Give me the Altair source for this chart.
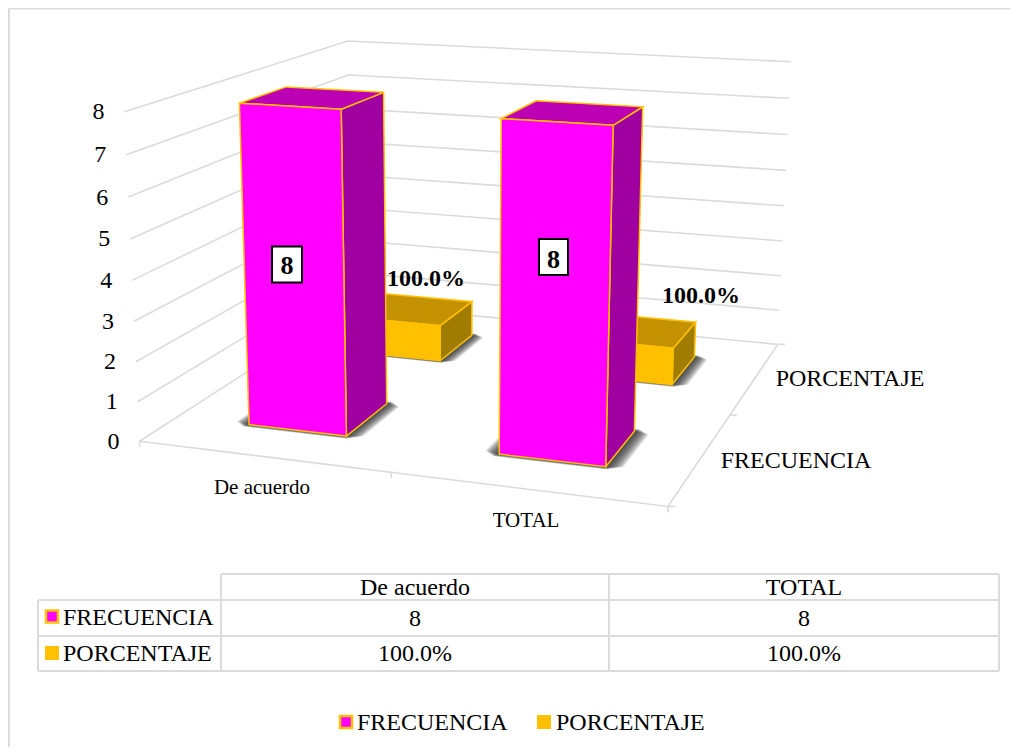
import numpy as np
import pandas as pd
import altair as alt

# ---- chart values ----
categories = ["De acuerdo", "TOTAL"]
series_names = ["FRECUENCIA", "PORCENTAJE"]
frecuencia = [8, 8]
porcentaje = [1.0, 1.0]
z_ticks = [0, 1, 2, 3, 4, 5, 6, 7, 8]

pink, gold = "#FF00FF", "#FFC000"
pink_top, pink_side = "#BC00B4", "#A000A0"
gold_top, gold_side = "#C49200", "#A07C00"
grid = "#DBDBDB"

W, H = 1002, 739
OX, OY = 8, 8

# ---- camera: homogeneous projection (u across, v depth, z value) fitted to the picture's box ----
calib = [
    (0, 0, 0, 140, 440), (0, 0, 8, 125, 112), (1, 0, 0, 668, 509), (0, 1, 8, 348, 39),
    (1, 1, 0, 777, 343), (1, 1, 8, 790.5, 62), (0, 1, 0, 352, 313), (.5, 0, 0, 391, 473), (1, .5, 0, 730, 416),
    (.15, .15, 8, 239, 103), (.35, .15, 8, 341, 109.5), (.35, .35, 8, 383, 93), (.15, .35, 8, 286, 86),
    (.15, .15, 0, 248, 423), (.35, .15, 0, 346.5, 435), (.35, .35, 0, 387, 402),
    (.65, .15, 8, 501, 119), (.85, .15, 8, 613.5, 126.5), (.85, .35, 8, 643, 108), (.65, .35, 8, 537, 101),
    (.65, .15, 0, 498, 454.5), (.85, .15, 0, 606, 468), (.85, .35, 0, 635, 432),
    (.35, .65, 1, 440, 323), (.35, .85, 1, 472, 300), (.35, .65, 0, 441, 359), (.35, .85, 0, 471.5, 335),
    (.85, .65, 1, 673, 347), (.85, .85, 1, 695, 322), (.85, .65, 0, 673, 385), (.85, .85, 0, 695, 355),
]
rows = []
for u, v, z, px, py in calib:
    X = [u, v, z / 8, 1]
    a, b = px / 1000, py / 1000
    rows.append(X + [0, 0, 0, 0] + [-a * c for c in X])
    rows.append([0, 0, 0, 0] + X + [-b * c for c in X])
P = np.linalg.svd(np.array(rows, dtype=float))[2][-1].reshape(3, 4)


def proj(u, v, z):
    x, y, w = P @ np.array([u, v, z / 8, 1.0])
    return [float(x / w * 1000), float(y / w * 1000)]


features = []


def poly(pts, fill, stroke="transparent", sw=0.0, op=1.0):
    ring = [list(p) for p in pts]
    ring.append(ring[0])
    features.append({"type": "Feature", "geometry": {"type": "Polygon", "coordinates": [ring]},
                     "properties": {"fill": fill, "stroke": stroke, "sw": sw, "op": op}})


def line(pts, stroke=grid, sw=1.6):
    features.append({"type": "Feature", "geometry": {"type": "LineString", "coordinates": [list(p) for p in pts]},
                     "properties": {"fill": "transparent", "stroke": stroke, "sw": sw, "op": 1.0}})


def rect(x0, y0, x1, y1, fill, stroke="transparent", sw=0.0):
    poly([(x0, y0), (x1, y0), (x1, y1), (x0, y1)], fill, stroke, sw)


# frame
line([(9, 8.5), (OX + W, 8.5)], sw=2)
line([(9, 8.5), (9, OY + H)], sw=2)

# walls and floor
for z in z_ticks:
    line([proj(0, 0, z), proj(0, 1, z), proj(1, 1, z)])
line([proj(0, 0, 0), proj(1, 0, 0), proj(1, 1, 0)])
for u in [0, .5, 1]:
    p = proj(u, 0, 0)
    line([p, (p[0], p[1] + 6)])
for v in [0, .5, 1]:
    p = proj(1, v, 0)
    line([p, (p[0] + 7, p[1])])


def bar(c, d, value, front, top, side):
    u0, u1, v0, v1 = c - .1, c + .1, d - .1, d + .1
    # soft shadow: stacked translucent rounded footprints
    for k in np.arange(.030, 0, -.0025):
        k = float(k)
        ku, kv = k, k * .45
        ua, ub, va, vb = u0 - ku, u1 + ku, v0 - kv, v1 + kv
        cu, cv = k * .8, k * .8
        poly([proj(ua + cu, va, 0), proj(ub - cu, va, 0), proj(ub, va + cv, 0),
              proj(ub, vb - cv, 0), proj(ub - cu, vb, 0), proj(ua + cu, vb, 0),
              proj(ua, vb - cv, 0), proj(ua, va + cv, 0)], "#222222", op=.12)
    poly([proj(u1, v0, 0), proj(u1, v1, 0), proj(u1, v1, value), proj(u1, v0, value)], side, gold, 1.5)
    poly([proj(u0, v0, value), proj(u1, v0, value), proj(u1, v1, value), proj(u0, v1, value)], top, gold, 1.5)
    poly([proj(u0, v0, 0), proj(u1, v0, 0), proj(u1, v0, value), proj(u0, v0, value)], front, gold, 1.5)


centers = [.25, .75]
for c, val in zip(centers, porcentaje):
    bar(c, .75, val, gold, gold_top, gold_side)
for c, val in zip(centers, frecuencia):
    bar(c, .25, val, pink, pink_top, pink_side)

# data label boxes
rect(272, 246.5, 302, 282.5, "#FFFFFF", "#000000", 2)
rect(539, 239, 568, 275, "#FFFFFF", "#000000", 2)

# data table
for y, x0 in [(574, 221), (600, 38), (636, 38), (671, 38)]:
    line([(x0, y), (999, y)], sw=2)
for x, y0 in [(38, 600), (221, 574), (609, 574), (999, 574)]:
    line([(x, y0), (x, 671)], sw=2)

# keys
for y in [610.5, 716]:
    x = 46 if y < 700 else 340
    rect(x, y, x + 12, y + 12, pink, gold, 2.5)
rect(45, 646, 59, 660, gold)
rect(537, 715, 551, 729, gold)

geo = alt.Chart(alt.Data(values=features)).mark_geoshape().encode(
    fill=alt.Fill("properties.fill:N", scale=None),
    stroke=alt.Stroke("properties.stroke:N", scale=None),
    strokeWidth=alt.StrokeWidth("properties.sw:Q", scale=None),
    opacity=alt.Opacity("properties.op:Q", scale=None),
).project(type="identity", scale=1, translate=[-OX, -OY])

xs = alt.Scale(domain=[OX, OX + W], range=[0, W])
ys = alt.Scale(domain=[OY, OY + H], range=[0, H])


def texts(items, size, align="center", weight="normal"):
    df = pd.DataFrame(items, columns=["x", "y", "t"])
    return alt.Chart(df).mark_text(font="Liberation Serif", fontSize=size, align=align, fontWeight=weight,
                                   baseline="alphabetic", color="#000000").encode(
        x=alt.X("x:Q", scale=xs, axis=None), y=alt.Y("y:Q", scale=ys, axis=None), text="t:N")


pct = [f"{v * 100:.1f}%" for v in porcentaje]
tick_items = []
for z in z_ticks:
    p = proj(0, 0, z)
    tick_items.append((p[0] - 20, p[1] + 7.5, str(z)))

layers = [
    geo,
    texts(tick_items, 24, "right"),
    texts([(262, 494, categories[0]), (526, 527, categories[1])], 21),
    texts([(796, 468, series_names[0]), (850, 386, series_names[1]),
           (415, 595, categories[0]), (804, 595, categories[1]),
           (415, 626, str(frecuencia[0])), (804, 626, str(frecuencia[1])),
           (415, 661, pct[0]), (804, 661, pct[1])], 24),
    texts([(63, 625, series_names[0]), (63, 661, series_names[1]),
           (357, 730, series_names[0]), (556, 730, series_names[1])], 24, "left"),
    texts([(287, 274, str(frecuencia[0])), (553.5, 268, str(frecuencia[1]))], 26, "center", "bold"),
    texts([(426, 286, pct[0]), (701, 303, pct[1])], 24, "center", "bold"),
]

chart = alt.layer(*layers).properties(
    width=W, height=H, padding=0, background="#FFFFFF",
    autosize=alt.AutoSizeParams(type="none"),
).configure_view(stroke=None)

chart.save("out.html", embed_options={"renderer": "svg", "actions": False})
